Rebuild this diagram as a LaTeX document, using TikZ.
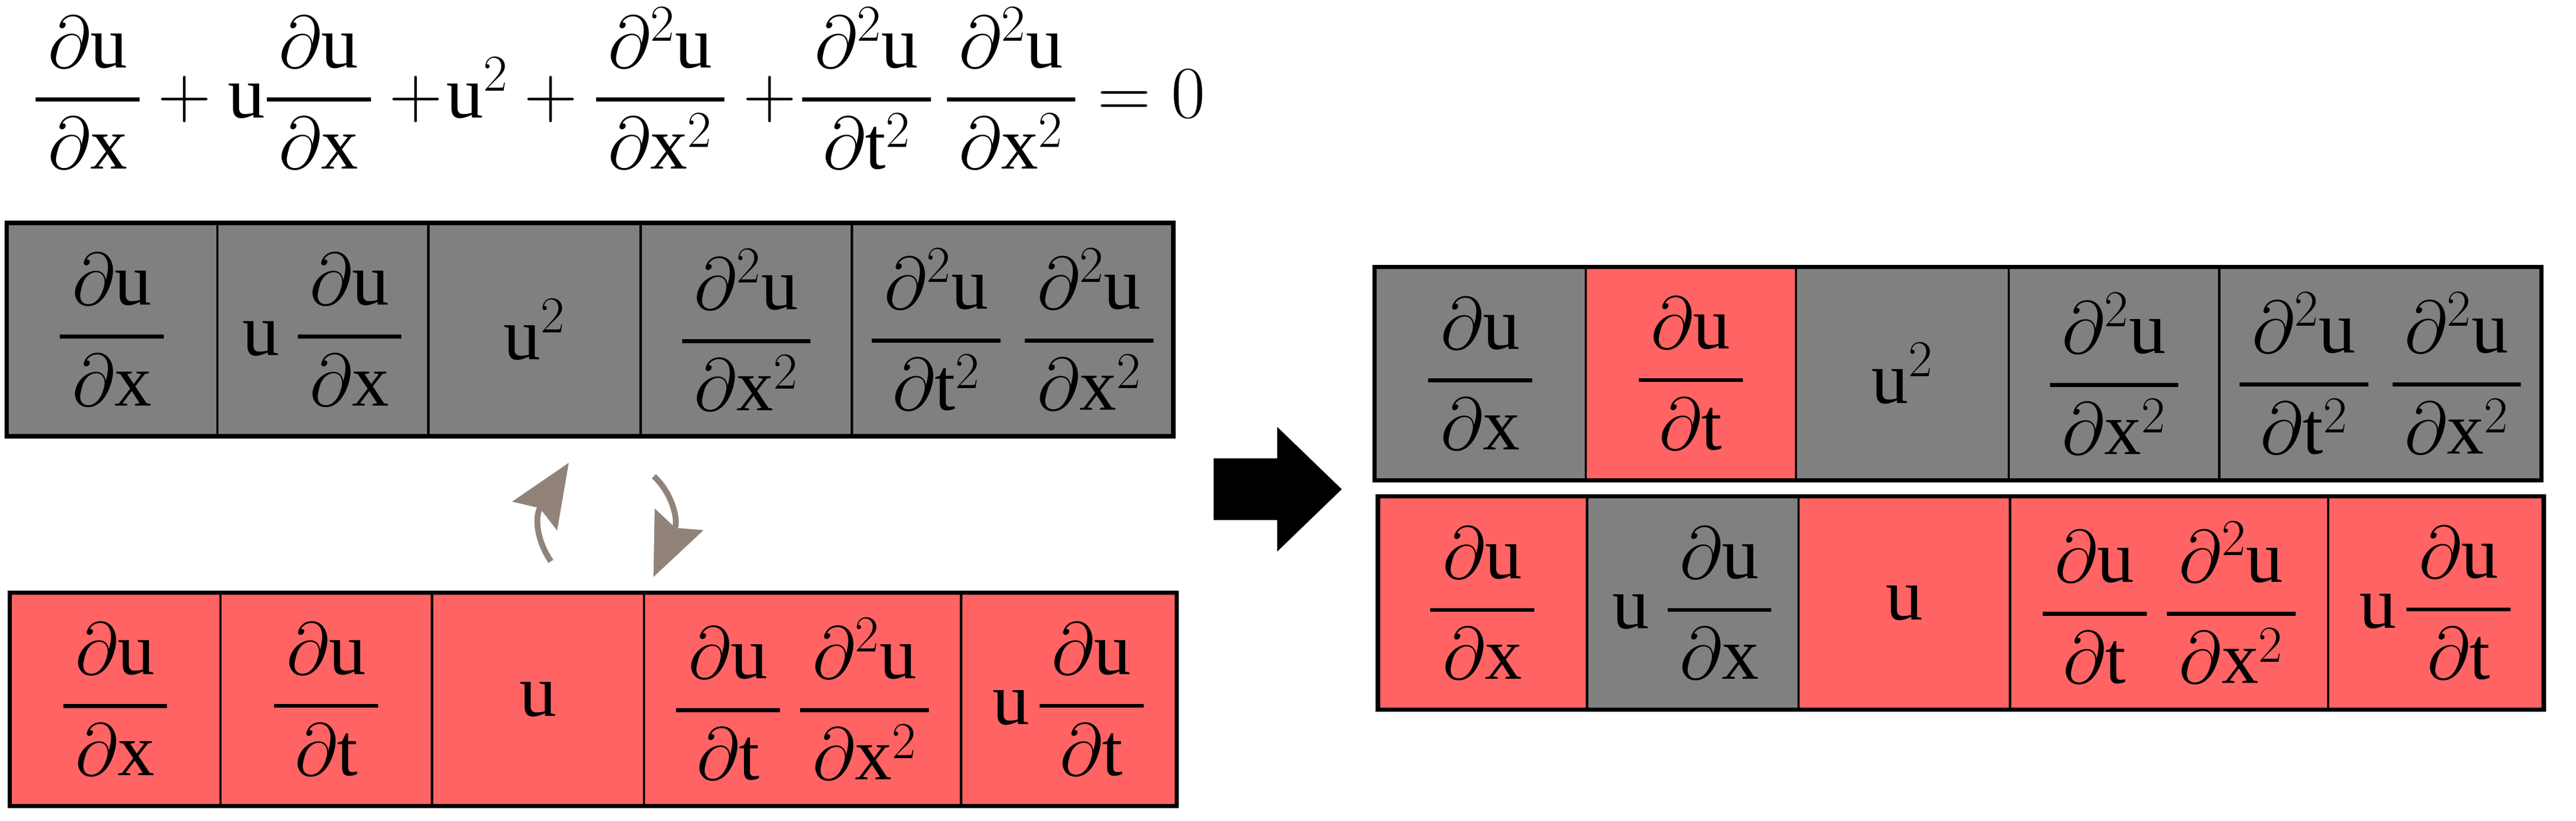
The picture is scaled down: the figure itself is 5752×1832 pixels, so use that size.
\RequirePackage{fix-cm}
\documentclass[tikz,border=0pt]{standalone}
\usepackage{amsmath}
\usepackage{fontspec}
\setmainfont{Liberation Serif}
\usetikzlibrary{positioning,arrows.meta}

\definecolor{termgray}{RGB}{128,128,128}
\definecolor{termred}{RGB}{255,99,99}
\definecolor{swapgray}{RGB}{145,131,121}

\newcommand\pdOne[2]{\genfrac{}{}{2.5pt}{0}{\mkern3mu\partial\mathrm{#1}\mkern3mu}{\mkern3mu\partial\mathrm{#2}\mkern3mu}}
\newcommand\pdTwo[2]{\genfrac{}{}{2.5pt}{0}{\mkern3mu\partial^2\mathrm{#1}\mkern3mu}{\mkern3mu\partial\mathrm{#2}^2\mkern3mu}}

\begin{document}
\begin{tikzpicture}[
    x=0.01cm, y=-0.01cm,
    term/.style={%
      draw,
      rectangle,
      line width=0.05cm,
      inner sep=0pt,
      outer sep=0pt,
      minimum height=4.76cm,
      font=\fontsize{47}{56}\selectfont,
    },
    gterm/.style={term, fill=termgray},
    rterm/.style={term, fill=termred},
    rowframe/.style={draw, line width=0.1cm},
    swap/.style={%
      draw=swapgray,
      line width=0.13cm,
      -{Stealth[length=1.4cm, width=1.17cm, inset=0.2cm]},
    },
  ]
    \useasboundingbox (0,0) rectangle (5752,1832);

    % equation
    \node [anchor=base west, inner sep=0pt, font=\fontsize{47}{56}\selectfont] (eq) at (75,263)
      {$\pdOne{u}{x} + \mathrm{u}\pdOne{u}{x} + \!\mathrm{u}^2 + \pdTwo{u}{x} + \!\pdTwo{u}{t}\mkern3mu\pdTwo{u}{x} = 0$};

    % left, known terms
    \node [gterm, minimum width=4.70cm] (t1) at (250,736) {$\pdOne{u}{x}$};
    \node [gterm, minimum width=4.71cm, right=0pt of t1] (t2) {$\mathrm{u}\mkern4mu\pdOne{u}{x}$};
    \node [gterm, minimum width=4.74cm, right=0pt of t2] (t3) {$\mathrm{u}^2$};
    \node [gterm, minimum width=4.71cm, right=0pt of t3] (t4) {$\pdTwo{u}{x}$};
    \node [gterm, minimum width=7.18cm, right=0pt of t4] (t5) {$\pdTwo{u}{t}\mkern5mu\pdTwo{u}{x}$\hspace{1.1cm}};
    \draw [rowframe] (t1.north west) rectangle (t5.south east);

    % left, candidate terms
    \node [rterm, minimum width=4.70cm] (b1) at (257,1561) {$\pdOne{u}{x}$};
    \node [rterm, minimum width=4.72cm, right=0pt of b1] (b2) {$\pdOne{u}{t}$};
    \node [rterm, minimum width=4.73cm, right=0pt of b2] (b3) {$\mathrm{u}$};
    \node [rterm, minimum width=7.08cm, right=0pt of b3] (b4) {$\pdOne{u}{t}\mkern4mu\pdTwo{u}{x}$};
    \node [rterm, minimum width=4.81cm, right=0pt of b4] (b5) {$\mathrm{u}\mkern2mu\pdOne{u}{t}$};
    \draw [rowframe] (b1.north west) rectangle (b5.south east);

    % swap arrows
    \coordinate (s1) at (1230,1253);
    \coordinate (s2) at (1270,1033);
    \coordinate (s3) at (1460,1063);
    \coordinate (s4) at (1459,1288);
    \draw [swap] (s1) .. controls (1195,1200) and (1195,1150) .. (s2);
    \draw [swap] (s3) .. controls (1500,1100) and (1516,1160) .. (s4);

    % block arrow
    \fill (2710,1023) -- (2852,1023) -- (2852,953) -- (2996,1092)
      -- (2852,1231) -- (2852,1161) -- (2710,1161) -- cycle;

    % right, top row
    \node [gterm, minimum width=4.71cm] (u1) at (3305,834) {$\pdOne{u}{x}$};
    \node [rterm, minimum width=4.69cm, right=0pt of u1] (u2) {$\pdOne{u}{t}$};
    \node [gterm, minimum width=4.75cm, right=0pt of u2] (u3) {$\mathrm{u}^2$};
    \node [gterm, minimum width=4.70cm, right=0pt of u3] (u4) {$\pdTwo{u}{x}$};
    \node [gterm, minimum width=7.19cm, right=0pt of u4] (u5) {$\pdTwo{u}{t}\mkern5mu\pdTwo{u}{x}$\hspace{1.1cm}};
    \draw [rowframe] (u1.north west) rectangle (u5.south east);

    % right, bottom row
    \node [rterm, minimum width=4.67cm] (v1) at (3310,1346) {$\pdOne{u}{x}$};
    \node [gterm, minimum width=4.72cm, right=0pt of v1] (v2) {$\mathrm{u}\mkern4mu\pdOne{u}{x}$};
    \node [rterm, minimum width=4.72cm, right=0pt of v2] (v3) {$\mathrm{u}$};
    \node [rterm, minimum width=7.10cm, right=0pt of v3] (v4) {$\pdOne{u}{t}\mkern4mu\pdTwo{u}{x}$};
    \node [rterm, minimum width=4.81cm, right=0pt of v4] (v5) {$\mathrm{u}\mkern2mu\pdOne{u}{t}$};
    \draw [rowframe] (v1.north west) rectangle (v5.south east);
\end{tikzpicture}
\end{document}
